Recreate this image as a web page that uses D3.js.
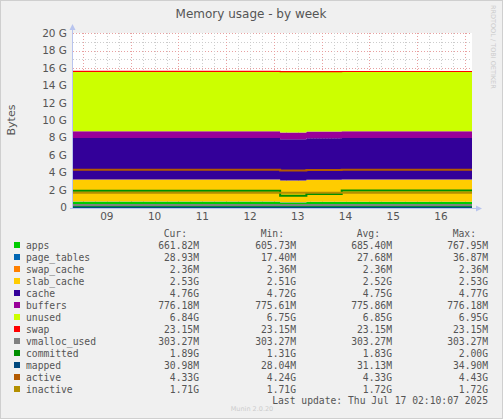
<!DOCTYPE html>
<html><head><meta charset="utf-8">
<script src="https://cdn.jsdelivr.net/npm/d3@7"></script>
<style>body{margin:0;background:#f0f0f0}svg{display:block}</style>
</head><body>
<script>
// breakpoints in days of July 2025 (step-after)
const times = [8.79, 13.13, 13.68, 14.42, 17.15]

// stacked areas (G)
const apps        = [0.68, 0.60, 0.66, 0.66, 0.66]
const page_tables = [0.028, 0.020, 0.030, 0.029, 0.029]
const swap_cache  = [0.0024, 0.0024, 0.0024, 0.0024, 0.0024]
const slab_cache  = [2.53, 2.51, 2.52, 2.53, 2.53]
const cache       = [4.76, 4.72, 4.75, 4.76, 4.76]
const buffers     = [0.776, 0.776, 0.776, 0.776, 0.776]
const unused      = [6.84, 6.95, 6.85, 6.84, 6.84]
const swap        = [0.023, 0.023, 0.023, 0.023, 0.023]
// lines (G)
const vmalloc_used = [0.303, 0.303, 0.303, 0.303, 0.303]
const committed    = [1.95, 1.38, 1.56, 1.97, 1.97]
const mapped       = [0.031, 0.028, 0.034, 0.031, 0.031]
const active       = [4.35, 4.26, 4.33, 4.35, 4.35]
const inactive     = [1.71, 1.71, 1.71, 1.72, 1.72]

const dayTicks = [9, 10, 11, 12, 13, 14, 15, 16]
const yTicks = [0, 2, 4, 6, 8, 10, 12, 14, 16, 18, 20]

const legendRows = [
  ['apps', '#00CC00', '661.82M', '605.73M', '685.40M', '767.95M'],
  ['page_tables', '#0066B3', '28.93M', '17.40M', '27.68M', '36.87M'],
  ['swap_cache', '#FF8000', '2.36M', '2.36M', '2.36M', '2.36M'],
  ['slab_cache', '#FFCC00', '2.53G', '2.51G', '2.52G', '2.53G'],
  ['cache', '#330099', '4.76G', '4.72G', '4.75G', '4.77G'],
  ['buffers', '#990099', '776.18M', '775.61M', '775.86M', '776.18M'],
  ['unused', '#CCFF00', '6.84G', '6.75G', '6.85G', '6.95G'],
  ['swap', '#FF0000', '23.15M', '23.15M', '23.15M', '23.15M'],
  ['vmalloc_used', '#808080', '303.27M', '303.27M', '303.27M', '303.27M'],
  ['committed', '#008F00', '1.89G', '1.31G', '1.83G', '2.00G'],
  ['mapped', '#00487D', '30.98M', '28.04M', '31.13M', '34.90M'],
  ['active', '#B35A00', '4.33G', '4.24G', '4.33G', '4.43G'],
  ['inactive', '#B38F00', '1.71G', '1.71G', '1.72G', '1.72G'],
]

const stackSeries = { apps, page_tables, swap_cache, slab_cache, cache, buffers, unused, swap }
const lineSeries = { vmalloc_used, committed, mapped, active, inactive }
const colorOf = Object.fromEntries(legendRows.map(r => [r[0], r[1]]))

const W = 503, H = 419
const svg = d3.select('body').append('svg').attr('width', W).attr('height', H)
svg.append('rect').attr('x', 0.5).attr('y', 0.5).attr('width', W - 1).attr('height', H - 1)
  .attr('fill', '#f0f0f0').attr('stroke', '#cfcfcf')

const x = d3.scaleLinear().domain([8.79, 17.15]).range([73, 472])
const y = d3.scaleLinear().domain([0, 20]).range([207.7, 33.3])

svg.append('rect').attr('x', 73).attr('y', 33).attr('width', 399).attr('height', 175).attr('fill', '#fff')

// grid
const g = svg.append('g').attr('shape-rendering', 'crispEdges')
for (let v = 0; v <= 20; v += 1) {
  g.append('line').attr('x1', 73).attr('x2', 472).attr('y1', Math.round(y(v)) + 0.5).attr('y2', Math.round(y(v)) + 0.5)
    .attr('stroke', v % 2 ? '#ccc' : '#e8a0a0').attr('stroke-dasharray', '1,2')
}
for (let t = 9; t < 17.1; t += 0.25) {
  const major = Math.abs(t - Math.round(t)) < 1e-6
  g.append('line').attr('y1', 33).attr('y2', 208).attr('x1', Math.round(x(t)) + 0.5).attr('x2', Math.round(x(t)) + 0.5)
    .attr('stroke', major ? '#e8a0a0' : '#ccc').attr('stroke-dasharray', '1,2')
}

// stacked areas
const rows = times.map((t, i) => {
  const r = { t }
  for (const k in stackSeries) r[k] = stackSeries[k][i]
  return r
})
const stacked = d3.stack().keys(Object.keys(stackSeries))(rows)
const area = d3.area().curve(d3.curveStepAfter)
  .x(d => x(d.data.t)).y0(d => y(d[0])).y1(d => y(d[1]))
svg.append('g').selectAll('path').data(stacked).join('path')
  .attr('d', area).attr('fill', d => colorOf[d.key])
// swap top line
svg.append('path').datum(stacked[stacked.length - 1])
  .attr('d', d3.line().curve(d3.curveStepAfter).x(d => x(d.data.t)).y(d => y(d[1])))
  .attr('fill', 'none').attr('stroke', '#FF0000').attr('stroke-width', 1.2)

// lines
const line = d3.line().curve(d3.curveStepAfter).x((v, i) => x(times[i])).y(v => y(v))
for (const k in lineSeries) {
  svg.append('path').datum(lineSeries[k]).attr('d', line).attr('fill', 'none')
    .attr('stroke', colorOf[k]).attr('stroke-width', 2)
}

// axes
svg.append('line').attr('x1', 72.5).attr('x2', 72.5).attr('y1', 208).attr('y2', 28).attr('stroke', '#b8c4ee')
svg.append('line').attr('x1', 70).attr('x2', 478).attr('y1', 208.5).attr('y2', 208.5).attr('stroke', '#b8c4ee')
svg.append('path').attr('d', 'M69.5,30 L72.5,24 L75.5,30 Z').attr('fill', '#b8c4ee')
svg.append('path').attr('d', 'M476,205.5 L482,208.5 L476,211.5 Z').attr('fill', '#b8c4ee')

const font = 'DejaVu Sans, sans-serif'
svg.append('g').selectAll('text').data(yTicks).join('text')
  .attr('x', 67).attr('y', v => y(v) + 3.5).attr('text-anchor', 'end')
  .attr('font-family', font).attr('font-size', 10.5).attr('fill', '#555')
  .text(v => v === 0 ? '0' : v + ' G')
svg.append('g').selectAll('text').data(dayTicks).join('text')
  .attr('x', d => x(d + 0.5)).attr('y', 220).attr('text-anchor', 'middle')
  .attr('font-family', font).attr('font-size', 10.5).attr('fill', '#555')
  .text(d => String(d).padStart(2, '0'))

svg.append('text').attr('x', 251).attr('y', 18).attr('text-anchor', 'middle')
  .attr('font-family', font).attr('font-size', 12).attr('fill', '#555').text('Memory usage - by week')
svg.append('text').attr('transform', 'translate(15,120) rotate(-90)').attr('text-anchor', 'middle')
  .attr('font-family', font).attr('font-size', 11).attr('fill', '#555').text('Bytes')
svg.append('text').attr('transform', 'translate(491,5) rotate(90)')
  .attr('font-family', font).attr('font-size', 6.5).attr('fill', '#ccc').text('RRDTOOL / TOBI OETIKER')

// legend
const mono = 'DejaVu Sans Mono, monospace'
const colsR = [199, 296, 392, 488]
const lg = svg.append('g').attr('font-family', mono).attr('font-size', 9.7).attr('fill', '#555')
;['Cur:', 'Min:', 'Avg:', 'Max:'].forEach((h, i) =>
  lg.append('text').attr('x', colsR[i] - 12).attr('y', 237).attr('text-anchor', 'end').text(h))
legendRows.forEach((r, i) => {
  const yy = 249 + i * 12
  lg.append('rect').attr('x', 14).attr('y', yy - 7).attr('width', 6).attr('height', 6).attr('fill', r[1])
  lg.append('text').attr('x', 26).attr('y', yy).text(r[0])
  for (let j = 0; j < 4; j++)
    lg.append('text').attr('x', colsR[j]).attr('y', yy).attr('text-anchor', 'end').text(r[2 + j])
})
lg.append('text').attr('x', 488).attr('y', 404).attr('text-anchor', 'end').text('Last update: Thu Jul 17 02:10:07 2025')
svg.append('text').attr('x', 252).attr('y', 411).attr('text-anchor', 'middle')
  .attr('font-family', font).attr('font-size', 6.5).attr('fill', '#ccc').text('Munin 2.0.20')
</script>
</body></html>
